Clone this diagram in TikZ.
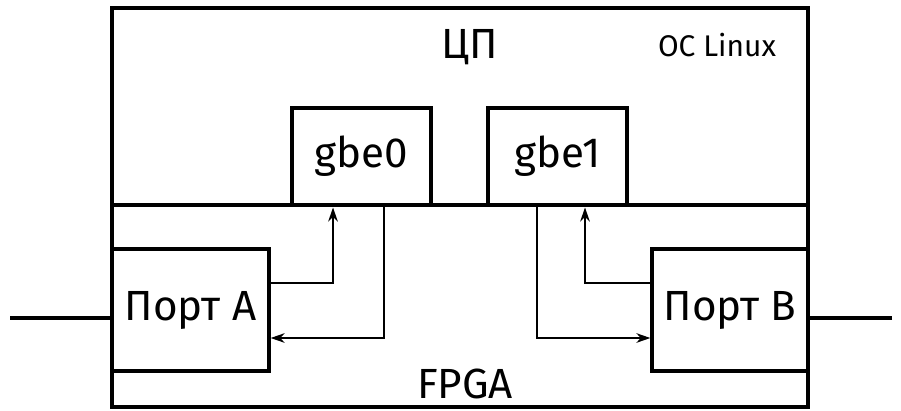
\documentclass[tikz,border=0pt]{standalone}
\usepackage{fontspec}
\setmainfont{Fira Sans}
\usetikzlibrary{arrows.meta,positioning}
\tikzset{
  blok/.style={draw, line width=1.9pt},
  link/.style={line width=0.9pt, -{Stealth[length=8pt,width=5.5pt]}},
  wire/.style={line width=1.9pt}
}

\begin{document}
\begin{tikzpicture}[x=0.02cm,y=-0.02cm]
      \useasboundingbox (0,0) rectangle (901,410);
      % outer boxes
      \draw[blok] (112,8) rectangle (808,407);
      \coordinate (split) at (112,205);
      \draw[blok] (split) -- (808,205);
      \node[font=\fontsize{24}{28}\selectfont] (cpu) at (470,47) {ЦП};
      \node[font=\fontsize{17}{20}\selectfont] (os) at (717,45) {ОС Linux};
      \node[font=\fontsize{24}{28}\selectfont] (fpga) at (465,384) {FPGA};
      % network interfaces
      \foreach \n/\x in {0/292, 1/488} {
          \draw[blok] (\x,205) |- (\x+139,108) -- (\x+139,205);
          \node[font=\fontsize{24}{28}\selectfont] (gbe\n) at (\x+69.5,156.5) {gbe\n};
          \coordinate (gbe\n b) at (\x+69.5,205);
        }
      % ports
      \node[blok, inner sep=0pt, font=\fontsize{24}{28}\selectfont,
            minimum width=3.14cm, minimum height=2.44cm] (portA) at (190.5,310) {Порт А};
      \node[blok, inner sep=0pt, font=\fontsize{24}{28}\selectfont,
            minimum width=3.12cm, minimum height=2.44cm] (portB) at (730,310) {Порт В};
      \coordinate (inA) at (10,318);
      \coordinate (inB) at (892,318);
      \draw[wire] (inA) -- (portA.west |- inA);
      \draw[wire] (inB) -- (portB.east |- inB);
      % connections
      \draw[link] ([yshift=0.54cm]portA.east) -| ([xshift=-0.57cm,yshift=-0.05cm]gbe0b);
      \draw[link] ([xshift=0.45cm]gbe0b) |- ([yshift=-0.56cm]portA.east);
      \draw[link] ([xshift=-0.41cm]gbe1b) |- ([yshift=-0.56cm]portB.west);
      \draw[link] ([yshift=0.54cm]portB.west) -| ([xshift=0.55cm,yshift=-0.05cm]gbe1b);
    \end{tikzpicture}
\end{document}
